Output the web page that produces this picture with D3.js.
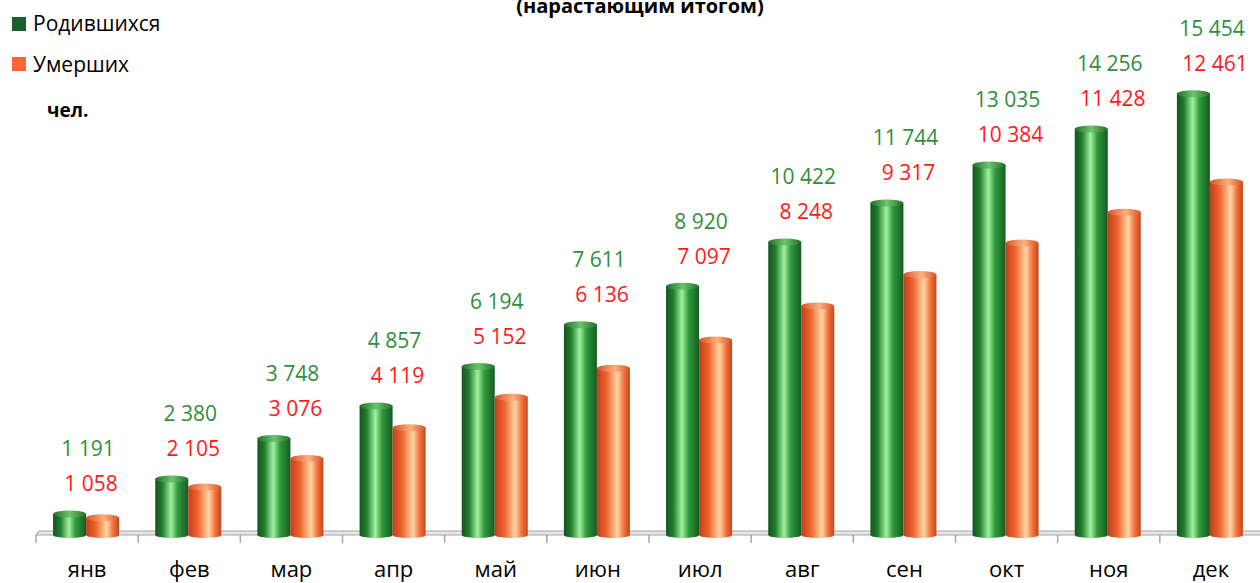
<!DOCTYPE html>
<html>
<head>
<meta charset="utf-8">
<script src="https://cdn.jsdelivr.net/npm/d3@7"></script>
<style>
  body { margin: 0; background: #fff; }
  svg { display: block; font-family: "Open Sans", "Noto Sans", sans-serif; }
</style>
</head>
<body>
<script>
// data
var months = ["янв", "фев", "мар", "апр", "май", "июн", "июл", "авг", "сен", "окт", "ноя", "дек"];
var born = [1191, 2380, 3748, 4857, 6194, 7611, 8920, 10422, 11744, 13035, 14256, 15454];
var died = [1058, 2105, 3076, 4119, 5152, 6136, 7097, 8248, 9317, 10384, 11428, 12461];
var seriesNames = ["Родившихся", "Умерших"];

var width = 1260, height = 583;
var floorY = 535;
var fmt = function(v) { return d3.format(",")(v).replace(/,/g, " "); };

var svg = d3.select("body").append("svg")
    .attr("width", width)
    .attr("height", height);

var defs = svg.append("defs");
// cylinder gradients
function cyl(id, stops) {
  var g = defs.append("linearGradient").attr("id", id)
      .attr("x1", "0%").attr("x2", "100%").attr("y1", "0%").attr("y2", "0%");
  stops.forEach(function(s) {
    g.append("stop").attr("offset", s[0]).attr("stop-color", s[1]);
  });
}
cyl("gGreen", [["0%", "#145420"], ["22%", "#217f2e"], ["48%", "#9ff29f"], ["68%", "#2f9a3c"], ["100%", "#165c22"]]);
cyl("gOrange", [["0%", "#c0401a"], ["30%", "#f0652f"], ["62%", "#ffd6a6"], ["82%", "#f2703a"], ["100%", "#c4461c"]]);
cyl("gGreenTop", [["0%", "#226e2c"], ["50%", "#6cc46c"], ["100%", "#226e2c"]]);
cyl("gOrangeTop", [["0%", "#d25428"], ["55%", "#ffb080"], ["100%", "#d25428"]]);

var x = d3.scaleBand().domain(months).range([36, 1262]).padding(0);
var y = d3.scaleLinear().domain([0, 18500]).range([545, 0]);
var barW = 33;

// floor
var x0 = x.range()[0], x1 = x.range()[1];
svg.append("path")
    .attr("d", "M" + x0 + "," + floorY + " L" + (x0 + 3) + "," + (floorY - 4) + " L" + x1 + "," + (floorY - 4) + " L" + x1 + "," + floorY + " Z")
    .attr("fill", "#e6e6e6")
    .attr("stroke", "#a6a6a6")
    .attr("stroke-width", 1.2);

// ticks
var xAxis = d3.axisBottom(x).tickSize(0).tickPadding(26);
var ax = svg.append("g").attr("transform", "translate(0," + floorY + ")").call(xAxis);
ax.select(".domain").remove();
ax.selectAll("text")
    .attr("font-size", 22)
    .attr("fill", "#000")
    .attr("font-family", "Open Sans, sans-serif");
var bounds = months.map(function(m) { return x(m); }).concat([x1]);
svg.selectAll("line.tk").data(bounds).enter().append("line")
    .attr("class", "tk")
    .attr("x1", function(d) { return d; }).attr("x2", function(d) { return d; })
    .attr("y1", floorY).attr("y2", floorY + 8)
    .attr("stroke", "#a6a6a6").attr("stroke-width", 1.5);

// bars as cylinders
function drawSeries(values, offset, grad, gradTop) {
  var g = svg.append("g");
  var bars = g.selectAll("g").data(values).enter().append("g");
  bars.append("rect")
      .attr("x", function(d, i) { return x(months[i]) + x.bandwidth() / 2 + offset; })
      .attr("y", function(d) { return y(d) + 4; })
      .attr("width", barW)
      .attr("height", function(d) { return floorY - y(d) - 4; })
      .attr("fill", "url(#" + grad + ")");
  bars.append("ellipse")
      .attr("cx", function(d, i) { return x(months[i]) + x.bandwidth() / 2 + offset + barW / 2; })
      .attr("cy", floorY)
      .attr("rx", barW / 2).attr("ry", 3)
      .attr("fill", "url(#" + grad + ")");
  bars.append("ellipse")
      .attr("cx", function(d, i) { return x(months[i]) + x.bandwidth() / 2 + offset + barW / 2; })
      .attr("cy", function(d) { return y(d) + 4; })
      .attr("rx", barW / 2).attr("ry", 3.5)
      .attr("fill", "url(#" + gradTop + ")");
}
drawSeries(born, -34, "gGreen", "gGreenTop");
drawSeries(died, -1, "gOrange", "gOrangeTop");

// data labels (placed above the green bar like in the source)
svg.selectAll("text.lb").data(born).enter().append("text")
    .attr("class", "lb")
    .attr("x", function(d, i) { return x(months[i]) + x.bandwidth() / 2 + 1; })
    .attr("y", function(d) { return y(d) - 61; })
    .attr("dy", "0.35em")
    .attr("text-anchor", "middle")
    .attr("font-size", 21)
    .attr("fill", "#2f8f3c")
    .text(function(d) { return fmt(d); });
svg.selectAll("text.ld").data(died).enter().append("text")
    .attr("class", "ld")
    .attr("x", function(d, i) { return x(months[i]) + x.bandwidth() / 2 + 4; })
    .attr("y", function(d, i) { return y(born[i]) - 26; })
    .attr("dy", "0.35em")
    .attr("text-anchor", "middle")
    .attr("font-size", 21)
    .attr("fill", "#ff1a1a")
    .text(function(d) { return fmt(d); });

// title (cut at the top in the original)
svg.append("text")
    .attr("x", 640).attr("y", 13)
    .attr("text-anchor", "middle")
    .attr("font-size", 20)
    .attr("font-weight", "bold")
    .text("(нарастающим итогом)");

// legend
var legColors = ["#1b5e2a", "#ff6633"];
var leg = svg.append("g");
seriesNames.forEach(function(name, i) {
  leg.append("rect")
      .attr("x", 12).attr("y", 17 + i * 40)
      .attr("width", 14).attr("height", 14)
      .attr("fill", legColors[i]);
  leg.append("text")
      .attr("x", 33).attr("y", 31 + i * 41)
      .attr("font-size", 21)
      .attr("fill", "#000")
      .text(name);
});
svg.append("text")
    .attr("x", 47).attr("y", 117)
    .attr("font-size", 19)
    .attr("font-weight", "bold")
    .text("чел.");
</script>
</body>
</html>
